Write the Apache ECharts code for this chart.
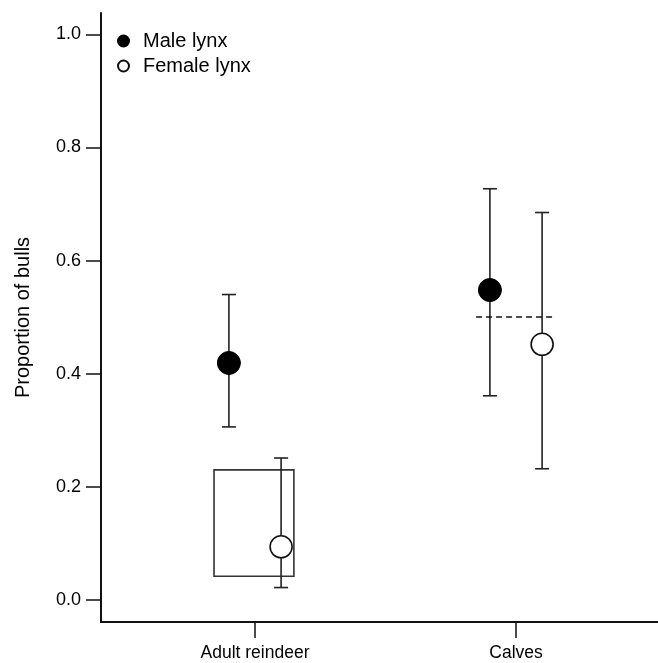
<!DOCTYPE html>
<html>
<head>
<meta charset="utf-8">
<script src="https://cdn.jsdelivr.net/npm/echarts@6/dist/echarts.min.js"></script>
<style>
html,body{margin:0;padding:0;background:#fff;}
#chart{width:658px;height:663px;}
</style>
</head>
<body>
<div id="chart"></div>
<script>
// ---- data ----
const categories = ['Adult reindeer', 'Calves'];
const seriesNames = ['Male lynx', 'Female lynx'];
const maleMean = [0.419, 0.548];
const maleLow = [0.306, 0.361];
const maleHigh = [0.540, 0.727];
const femaleMean = [0.094, 0.452];
const femaleLow = [0.022, 0.232];
const femaleHigh = [0.251, 0.685];
const yTicks = [0, 0.2, 0.4, 0.6, 0.8, 1.0];
const boxLow = 0.042;
const boxHigh = 0.230;
const referenceValue = 0.5;

// ---- layout constants ----
const OFFSET = 0.1;            // horizontal dodge of the two groups
const BOX_X = [-0.157, 0.149]; // box extent relative to category 1
const REF_X = [-0.153, 0.146]; // dashed line extent relative to category 2
const FONT = '"Liberation Sans", Arial, sans-serif';
const INK = '#000';

const catPos = categories.map((c, i) => i + 1);

const maleData = catPos.map((x, i) => [x - OFFSET, maleMean[i]]);
const femaleData = catPos.map((x, i) => [x + OFFSET, femaleMean[i]]);
const errData = catPos.map((x, i) => [x - OFFSET, maleLow[i], maleHigh[i]])
  .concat(catPos.map((x, i) => [x + OFFSET, femaleLow[i], femaleHigh[i]]));

const chart = echarts.init(document.getElementById('chart'), null, {renderer: 'canvas'});

chart.setOption({
  animation: false,
  backgroundColor: '#fff',
  textStyle: {fontFamily: FONT, color: INK},
  grid: {left: 101, right: 0, top: 13, bottom: 41, containLabel: false},
  legend: {
    orient: 'vertical',
    left: 112,
    top: 26,
    itemWidth: 11,
    itemHeight: 11,
    itemGap: 5,
    data: seriesNames,
    textStyle: {fontSize: 20, fontFamily: FONT, color: INK, padding: [0, 0, 0, 9]}
  },
  xAxis: {
    type: 'value',
    min: 0.41,
    max: 2.544,
    splitLine: {show: false},
    axisLine: {onZero: false, lineStyle: {color: '#111', width: 2}},
    axisTick: {show: true, length: 16, inside: false, customValues: catPos, lineStyle: {color: '#111', width: 1.5}},
    axisLabel: {
      customValues: catPos,
      margin: 22,
      fontSize: 17.5,
      fontFamily: FONT,
      color: INK,
      formatter: v => categories[Math.round(v) - 1] || ''
    }
  },
  yAxis: {
    type: 'value',
    min: -0.0389,
    max: 1.0377,
    name: 'Proportion of bulls',
    nameLocation: 'middle',
    nameGap: 68,
    nameTextStyle: {fontSize: 20, fontFamily: FONT, color: INK},
    splitLine: {show: false},
    axisLine: {onZero: false, lineStyle: {color: '#111', width: 2}},
    axisTick: {show: true, length: 15, inside: false, customValues: yTicks, lineStyle: {color: '#111', width: 1.5}},
    axisLabel: {
      customValues: yTicks,
      margin: 20,
      fontSize: 18,
      fontFamily: FONT,
      color: INK,
      formatter: v => v.toFixed(1)
    }
  },
  series: [
    {
      type: 'custom',
      name: 'errors',
      silent: true,
      z: 3,
      data: errData,
      encode: {x: 0, y: [1, 2]},
      renderItem: function (params, api) {
        const x = api.value(0);
        const lo = api.coord([x, api.value(1)]);
        const hi = api.coord([x, api.value(2)]);
        const w = 7;
        const st = {stroke: '#222', lineWidth: 1.6};
        return {
          type: 'group',
          children: [
            {type: 'line', shape: {x1: lo[0], y1: lo[1], x2: hi[0], y2: hi[1]}, style: st},
            {type: 'line', shape: {x1: lo[0] - w, y1: lo[1], x2: lo[0] + w, y2: lo[1]}, style: st},
            {type: 'line', shape: {x1: hi[0] - w, y1: hi[1], x2: hi[0] + w, y2: hi[1]}, style: st}
          ]
        };
      },
      markArea: {
        silent: true,
        itemStyle: {color: 'rgba(0,0,0,0)', borderColor: '#333', borderWidth: 1.6},
        data: [[
          {coord: [catPos[0] + BOX_X[0], boxLow]},
          {coord: [catPos[0] + BOX_X[1], boxHigh]}
        ]]
      },
      markLine: {
        silent: true,
        symbol: ['none', 'none'],
        label: {show: false},
        lineStyle: {color: '#111', type: [6, 4], width: 1.5},
        data: [[
          {coord: [catPos[1] + REF_X[0], referenceValue]},
          {coord: [catPos[1] + REF_X[1], referenceValue]}
        ]]
      }
    },
    {
      type: 'scatter',
      name: seriesNames[0],
      z: 5,
      symbol: 'circle',
      symbolSize: 23,
      itemStyle: {color: '#000', borderColor: '#000', borderWidth: 1, opacity: 1},
      data: maleData
    },
    {
      type: 'scatter',
      name: seriesNames[1],
      z: 5,
      symbol: 'circle',
      symbolSize: 22,
      itemStyle: {color: '#fff', borderColor: '#111', borderWidth: 1.6, opacity: 1},
      data: femaleData
    }
  ]
});
</script>
</body>
</html>
